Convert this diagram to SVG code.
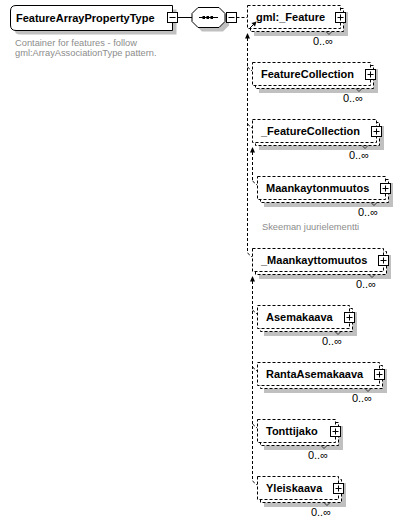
<svg xmlns="http://www.w3.org/2000/svg" width="404" height="525" viewBox="0 0 404 525">
<style>
.shadow{fill:#c0c0c0}
.box{fill:#fff;stroke:#000;stroke-width:1}
.dbox{fill:#fff;stroke:#000;stroke-width:1;stroke-dasharray:3,2}
.lbl{font-family:"Liberation Sans",Arial,sans-serif;font-size:11px;font-weight:bold;fill:#000}
.occ{font-family:"Liberation Sans",Arial,sans-serif;font-size:11px;fill:#000}
.desc{font-family:"Liberation Sans",Arial,sans-serif;font-size:9.3px;fill:#8c8c8c}
.dline{fill:none;stroke:#000;stroke-width:1;stroke-dasharray:3,2}
.line{fill:none;stroke:#000;stroke-width:1}
.tick{fill:none;stroke:#333;stroke-width:1}
.ah{fill:#000}
</style>
<defs>
<g id="plus"><rect x="0" y="0" width="10" height="10" class="box"/><path d="M2,5H8M5,2V8" class="line"/></g>
<g id="minus"><rect x="0" y="0" width="10" height="10" class="box"/><path d="M2,5H8" class="line"/></g>
</defs>

<g id="connectors">
<path class="line" d="M177.5,17.5H192"/>
<path class="dline" d="M236.5,17.5H247"/>
<polygon class="ah" points="247.5,33 245,38.5 250,38.5"/>
<path class="dline" d="M247.5,38V253"/>
<path class="dline" d="M247.5,67L252,71M247.5,124L252,128M247.5,253L252,257"/>
<polygon class="ah" points="252.5,147 250,152.5 255,152.5"/>
<path class="dline" d="M252.5,152V181"/>
<path class="dline" d="M252.5,181L257,185"/>
<polygon class="ah" points="252.5,276 250,281.5 255,281.5"/>
<path class="dline" d="M252.5,281V481"/>
<path class="dline" d="M252.5,310L257,314M252.5,367L257,371M252.5,424L257,428M252.5,481L257,485"/>
</g>

<g id="FeatureArrayPropertyType">
<path class="shadow" d="M20,9.5H176.5V34.5H20Q14.5,34.5 14.5,29V15Q14.5,9.5 20,9.5Z"/>
<path class="box" d="M16,5.5H172.5V30.5H16Q10.5,30.5 10.5,25V11Q10.5,5.5 16,5.5Z"/>
<text class="lbl" x="16" y="22">FeatureArrayPropertyType</text>
<use href="#minus" x="167.5" y="12.5"/>
<text class="desc" x="15" y="46">Container for features - follow</text>
<text class="desc" x="15" y="56">gml:ArrayAssociationType pattern.</text>
</g>

<g id="sequence">
<polygon class="shadow" points="202,11.5 223,11.5 229,17.5 229,25.5 223,31.5 202,31.5 196,25.5 196,17.5"/>
<polygon class="box" points="198,7.5 219,7.5 225,13.5 225,21.5 219,27.5 198,27.5 192,21.5 192,13.5"/>
<path class="line" d="M199,17.5H218"/>
<rect x="202.5" y="16" width="2.5" height="3" fill="#000"/>
<rect x="206.5" y="16" width="2.5" height="3" fill="#000"/>
<rect x="210.5" y="16" width="2.5" height="3" fill="#000"/>
<use href="#minus" x="226.5" y="12.5"/>
</g>

<g id="gml_Feature">
<rect class="shadow" x="254" y="12" width="94" height="24"/>
<rect class="dbox" x="250.5" y="8.5" width="93" height="23"/>
<rect class="dbox" x="247.5" y="5.5" width="93" height="23"/>
<text class="lbl" x="256" y="21">gml:_Feature</text>
<path class="line" d="M249.5,28.5L253.5,24.5"/>
<polygon class="ah" points="256.5,21.5 251.5,23 255,26.5"/>
<use href="#plus" x="335.5" y="12.5"/>
<polyline class="tick" points="326,31.5 329,34.5 332,31.5"/>
<text class="occ" x="333" y="45" text-anchor="end">0..∞</text>
</g>

<g id="FeatureCollection">
<rect class="shadow" x="259" y="69" width="119" height="24"/>
<rect class="dbox" x="255.5" y="65.5" width="118" height="23"/>
<rect class="dbox" x="252.5" y="62.5" width="118" height="23"/>
<text class="lbl" x="261" y="78">FeatureCollection</text>
<use href="#plus" x="365.5" y="69.5"/>
<polyline class="tick" points="356,88.5 359,91.5 362,88.5"/>
<text class="occ" x="363" y="102" text-anchor="end">0..∞</text>
</g>

<g id="_FeatureCollection">
<rect class="shadow" x="259" y="126" width="125" height="24"/>
<rect class="dbox" x="255.5" y="122.5" width="124" height="23"/>
<rect class="dbox" x="252.5" y="119.5" width="124" height="23"/>
<text class="lbl" x="261" y="135">_FeatureCollection</text>
<use href="#plus" x="371.5" y="126.5"/>
<polyline class="tick" points="362,145.5 365,148.5 368,145.5"/>
<text class="occ" x="369" y="159" text-anchor="end">0..∞</text>
</g>

<g id="Maankaytonmuutos">
<rect class="shadow" x="264" y="183" width="129" height="24"/>
<rect class="dbox" x="260.5" y="179.5" width="128" height="23"/>
<rect class="dbox" x="257.5" y="176.5" width="128" height="23"/>
<text class="lbl" x="266" y="192">Maankaytonmuutos</text>
<use href="#plus" x="380.5" y="183.5"/>
<polyline class="tick" points="371,202.5 374,205.5 377,202.5"/>
<text class="occ" x="378" y="216" text-anchor="end">0..∞</text>
<text class="desc" x="262" y="230">Skeeman juurielementti</text>
</g>

<g id="_Maankayttomuutos">
<rect class="shadow" x="259" y="255" width="132" height="24"/>
<rect class="dbox" x="255.5" y="251.5" width="131" height="23"/>
<rect class="dbox" x="252.5" y="248.5" width="131" height="23"/>
<text class="lbl" x="261" y="264">_Maankayttomuutos</text>
<use href="#plus" x="378.5" y="255.5"/>
<polyline class="tick" points="369,274.5 372,277.5 375,274.5"/>
<text class="occ" x="376" y="288" text-anchor="end">0..∞</text>
</g>

<g id="Asemakaava">
<rect class="shadow" x="264" y="312" width="93" height="24"/>
<rect class="dbox" x="260.5" y="308.5" width="92" height="23"/>
<rect class="dbox" x="257.5" y="305.5" width="92" height="23"/>
<text class="lbl" x="266" y="321">Asemakaava</text>
<use href="#plus" x="344.5" y="312.5"/>
<polyline class="tick" points="335,331.5 338,334.5 341,331.5"/>
<text class="occ" x="342" y="345" text-anchor="end">0..∞</text>
</g>

<g id="RantaAsemakaava">
<rect class="shadow" x="264" y="369" width="123" height="24"/>
<rect class="dbox" x="260.5" y="365.5" width="122" height="23"/>
<rect class="dbox" x="257.5" y="362.5" width="122" height="23"/>
<text class="lbl" x="266" y="378">RantaAsemakaava</text>
<use href="#plus" x="374.5" y="369.5"/>
<polyline class="tick" points="365,388.5 368,391.5 371,388.5"/>
<text class="occ" x="372" y="402" text-anchor="end">0..∞</text>
</g>

<g id="Tonttijako">
<rect class="shadow" x="264" y="426" width="79" height="24"/>
<rect class="dbox" x="260.5" y="422.5" width="78" height="23"/>
<rect class="dbox" x="257.5" y="419.5" width="78" height="23"/>
<text class="lbl" x="266" y="435">Tonttijako</text>
<use href="#plus" x="330.5" y="426.5"/>
<polyline class="tick" points="321,445.5 324,448.5 327,445.5"/>
<text class="occ" x="328" y="459" text-anchor="end">0..∞</text>
</g>

<g id="Yleiskaava">
<rect class="shadow" x="264" y="483" width="82" height="24"/>
<rect class="dbox" x="260.5" y="479.5" width="81" height="23"/>
<rect class="dbox" x="257.5" y="476.5" width="81" height="23"/>
<text class="lbl" x="266" y="492">Yleiskaava</text>
<use href="#plus" x="333.5" y="483.5"/>
<polyline class="tick" points="324,502.5 327,505.5 330,502.5"/>
<text class="occ" x="331" y="516" text-anchor="end">0..∞</text>
</g>
</svg>
